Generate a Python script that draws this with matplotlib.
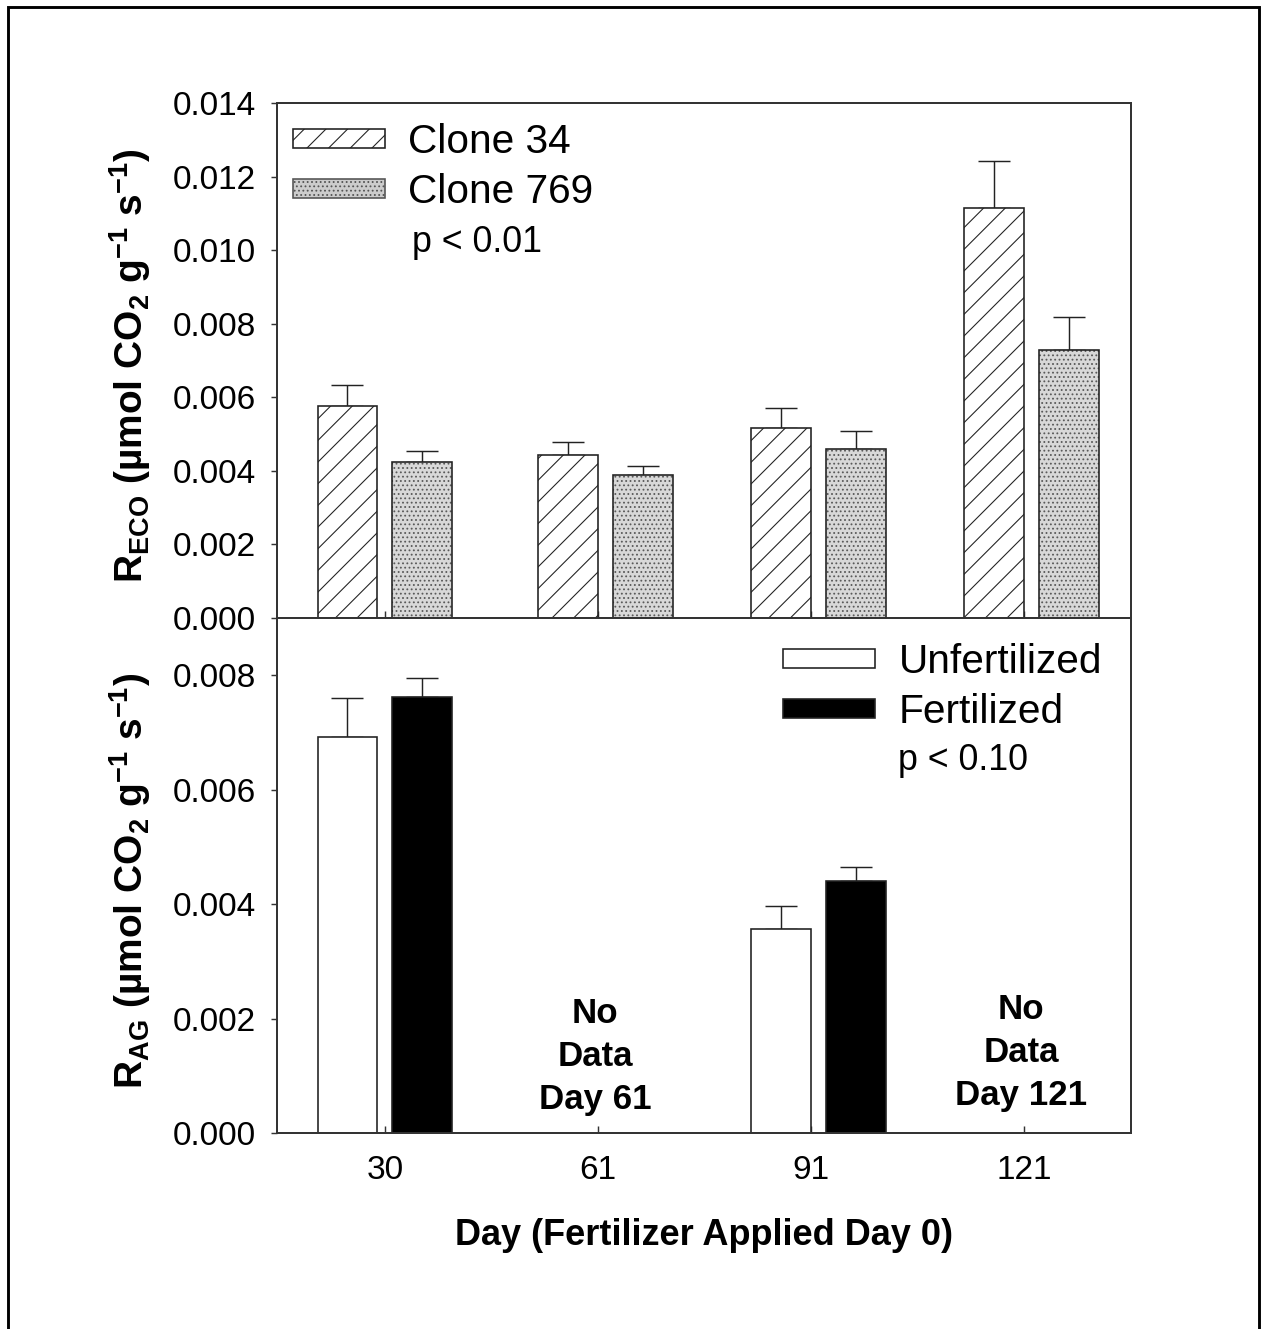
import matplotlib
matplotlib.use("Agg")
import matplotlib.pyplot as plt
import numpy as np
from matplotlib.patches import Patch, Rectangle

plt.rcParams['font.family'] = ['Liberation Sans', 'DejaVu Sans']
plt.rcParams['mathtext.fontset'] = 'custom'
plt.rcParams['mathtext.rm'] = 'Liberation Sans'
plt.rcParams['mathtext.bf'] = 'Liberation Sans:bold'
plt.rcParams['mathtext.default'] = 'bf'
plt.rcParams['hatch.linewidth'] = 0.6

# ---------------- data ----------------
days = [30, 61, 91, 121]
tick_positions = [30, 60, 90, 120]
tick_labels = ["30", "61", "91", "121"]

# Top panel: R_ECO by clone
clone34 = [0.00577, 0.00443, 0.00516, 0.01114]
clone34_err = [0.00056, 0.00035, 0.00055, 0.00129]
clone769 = [0.00425, 0.00389, 0.00459, 0.00728]
clone769_err = [0.00030, 0.00024, 0.00049, 0.00091]

# Bottom panel: R_AG by fertilization (no data days 61 and 121)
ag_days = [30, 91]
unfert = [0.00692, 0.00356]
unfert_err = [0.00068, 0.00040]
fert = [0.00762, 0.00440]
fert_err = [0.00033, 0.00025]
nodata_days = [60, 120]
nodata_y = [0.00134, 0.00141]
nodata_labels = ["No\nData\nDay 61", "No\nData\nDay 121"]

# ---------------- layout ----------------
W, H, DPI = 1261, 1329, 130
fig = plt.figure(figsize=(W / DPI, H / DPI), dpi=DPI)

L, R = 277 / W, 1131 / W
top_y0, top_y1 = 1 - 618 / H, 1 - 103 / H
bot_y0, bot_y1 = 1 - 1133 / H, 1 - 618 / H
ax1 = fig.add_axes([L, top_y0, R - L, top_y1 - top_y0])
ax2 = fig.add_axes([L, bot_y0, R - L, bot_y1 - bot_y0])

bw = 8.45
off = 5.28
edge_lw = 0.9
spine_c = '#333333'
tick_fs = 18.5
leg_fs = 22.5
p_fs = 19.8
lab_fs = 21.5

def style(ax):
    for s in ax.spines.values():
        s.set_color(spine_c)
        s.set_linewidth(1.1)
    ax.set_xlim(14.79, 135.08)
    ax.set_xticks(tick_positions)
    ax.tick_params(axis='x', direction='in', length=4, width=0.8, color=spine_c,
                   labelsize=tick_fs, pad=12, top=False)
    ax.tick_params(axis='y', direction='out', length=3.5, width=0.8, color=spine_c,
                   labelsize=tick_fs, pad=8, right=False)

err_kw = dict(fmt='none', ecolor='#222222', elinewidth=0.8, capsize=8.9, capthick=0.8)
leg_kw = dict(loc='upper left', frameon=False, fontsize=leg_fs, handlelength=2.27,
              handleheight=0.345, handletextpad=0.57, labelspacing=0.29,
              borderpad=0, borderaxespad=0)

# --- top panel ---
x34 = np.array(days) - off
x769 = np.array(days) + off
ax1.bar(x34, clone34, width=bw, facecolor='white', edgecolor='#222222',
        hatch='//', linewidth=edge_lw, zorder=2)
ax1.errorbar(x34, clone34, yerr=[np.zeros(len(clone34)), clone34_err], zorder=1, **err_kw)
ax1.bar(x769, clone769, width=bw, facecolor='#d8d8d8', edgecolor='#5a5a5a',
        hatch='.....', linewidth=0, zorder=2)
ax1.bar(x769, clone769, width=bw, fill=False, edgecolor='#222222',
        linewidth=edge_lw, zorder=3)
ax1.errorbar(x769, clone769, yerr=[np.zeros(len(clone769)), clone769_err], zorder=1, **err_kw)
style(ax1)
ax1.set_ylim(0, 0.014)
yt1 = np.arange(0, 0.0141, 0.002)
ax1.set_yticks(yt1)
ax1.set_yticklabels([f"{v:.3f}" for v in yt1])
ax1.tick_params(axis='x', labelbottom=False)
ax1.set_ylabel(r'R$_{ECO}$ (µmol CO$_2$ g$^{-1}$ s$^{-1}$)', fontsize=lab_fs,
               fontweight='bold')
ax1.yaxis.set_label_coords(-0.145, 0.49)

h34 = Patch(facecolor='white', edgecolor='#222222', hatch='//', linewidth=edge_lw)
h769 = Patch(facecolor='#cccccc', edgecolor='#555555', hatch='.....', linewidth=edge_lw)
ax1.legend([h34, h769], ['Clone 34', 'Clone 769'],
           bbox_to_anchor=(0.0187, 0.961), **leg_kw)
ax1.text((412 - 277) / 854, 1 - (243 - 103) / 515, 'p < 0.01', transform=ax1.transAxes,
         fontsize=p_fs, va='center', ha='left')

# --- bottom panel ---
xu = np.array(ag_days) - off
xf = np.array(ag_days) + off
ax2.bar(xu, unfert, width=bw, facecolor='white', edgecolor='#222222',
        linewidth=edge_lw, zorder=2)
ax2.errorbar(xu, unfert, yerr=[np.zeros(len(unfert)), unfert_err], zorder=1, **err_kw)
ax2.bar(xf, fert, width=bw, facecolor='black', edgecolor='#222222',
        linewidth=edge_lw, zorder=2)
ax2.errorbar(xf, fert, yerr=[np.zeros(len(fert)), fert_err], zorder=1, **err_kw)
style(ax2)
ax2.set_ylim(0, 0.009)
yt2 = np.arange(0, 0.0081, 0.002)
ax2.set_yticks(yt2)
ax2.set_yticklabels([f"{v:.3f}" for v in yt2])
ax2.set_xticklabels(tick_labels)
ax2.set_ylabel(r'R$_{AG}$ (µmol CO$_2$ g$^{-1}$ s$^{-1}$)', fontsize=lab_fs,
               fontweight='bold')
ax2.yaxis.set_label_coords(-0.145, 0.49)
ax2.set_xlabel('Day (Fertilizer Applied Day 0)', fontsize=20, fontweight='bold',
               labelpad=18)
for xd, lab, yv in zip(nodata_days, nodata_labels, nodata_y):
    ax2.text(xd - 0.4, yv, lab, ha='center', va='center', fontsize=19.3, fontweight='bold',
             linespacing=1.38)

hu = Patch(facecolor='white', edgecolor='#222222', linewidth=edge_lw)
hf = Patch(facecolor='black', edgecolor='#222222', linewidth=edge_lw)
ax2.legend([hu, hf], ['Unfertilized', 'Fertilized'],
           bbox_to_anchor=((783 - 277) / 854, 0.9515), **leg_kw)
ax2.text((898 - 277) / 854, 1 - (760 - 618) / 515, 'p < 0.10', transform=ax2.transAxes,
         fontsize=p_fs, va='center', ha='left')

# outer frame
fig.patches.append(Rectangle((8 / W, -0.01), (1259 - 8) / W, 1.01 - 7 / H,
                             transform=fig.transFigure, fill=False, edgecolor='black',
                             linewidth=1.6))

fig.savefig('out.png', dpi=DPI)
